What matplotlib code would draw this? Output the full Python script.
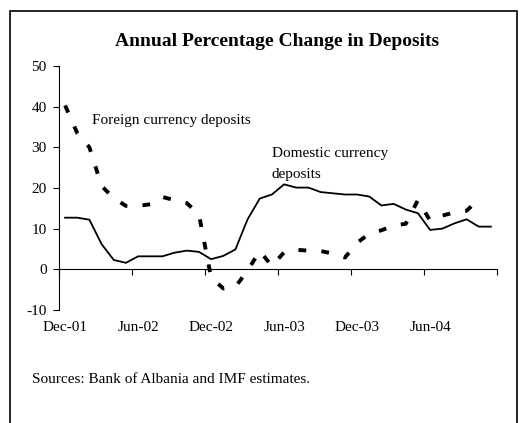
import numpy as np
import matplotlib
matplotlib.use('Agg')
import matplotlib.pyplot as plt
from matplotlib.patches import Rectangle

plt.rcParams['font.family'] = ['Liberation Serif', 'DejaVu Serif']

# monthly data, Dec-01 .. Nov-04
domestic = [12.7, 12.7, 12.2, 6.2, 2.3, 1.6, 3.2, 3.2, 3.2, 4.1, 4.6, 4.3,
            2.5, 3.3, 4.9, 12.3, 17.4, 18.4, 20.9, 20.1, 20.1, 19.0, 18.7, 18.4,
            18.4, 17.9, 15.7, 16.1, 14.7, 13.8, 9.7, 10.0, 11.3, 12.3, 10.5, 10.5]
# foreign currency deposits, Dec-01 .. Oct-04
foreign = [40.3, 33.5, 30.0, 20.5, 17.5, 15.6, 15.6, 16.0, 17.8, 17.0, 16.3, 13.5,
           -2.0, -4.7, -4.3, -0.3, 4.5, 0.8, 4.2, 4.8, 4.6, 4.5, 3.9, 2.9,
           6.5, 8.8, 9.6, 10.8, 11.2, 17.0, 12.0, 13.2, 14.0, 14.4, 17.2]
tick_labels = ['Dec-01', 'Jun-02', 'Dec-02', 'Jun-03', 'Dec-03', 'Jun-04']
yticks = [-10, 0, 10, 20, 30, 40, 50]

n_months = len(domestic)
x_dom = np.arange(len(domestic))
x_for = np.arange(len(foreign))

fig = plt.figure(figsize=(5.27, 4.23), dpi=100)
ax = fig.add_axes([59 / 527, 1 - 310 / 423, 438 / 527, 244 / 423])

ax.plot(x_dom, domestic, color='black', lw=1.3)
ax.plot(x_for, foreign, color='black', lw=2.8, dashes=(2.0, 3.9),
        solid_capstyle='butt', dash_capstyle='butt')

ax.set_xlim(-0.5, n_months - 0.5)
ax.set_ylim(-10, 50)

for s in ['top', 'right']:
    ax.spines[s].set_visible(False)
ax.spines['bottom'].set_position(('data', 0))
ax.spines['left'].set_linewidth(0.8)
ax.spines['bottom'].set_linewidth(0.8)

# tick marks between categories, every 6 months
ax.set_xticks(np.arange(-0.5, n_months, 6))
ax.set_xticklabels([])
ax.tick_params(axis='x', direction='out', length=4, width=0.8)
ax.set_yticks(yticks)
ax.set_yticklabels([str(v) for v in yticks])
ax.tick_params(axis='y', direction='out', length=4, width=0.8, labelsize=11, pad=5)

# category labels at the bottom
sec = ax.secondary_xaxis(0.0)
sec.set_xticks(np.arange(0, n_months, 6))
sec.set_xticklabels(tick_labels)
sec.tick_params(length=0, labelsize=11, pad=8)
sec.spines['bottom'].set_visible(False)

ax.text(2.2, 36.6, 'Foreign currency deposits', fontsize=11, va='center', ha='left')
ax.text(17.0, 26.0, 'Domestic currency\ndeposits', fontsize=11, va='center', ha='left',
        linespacing=1.8)

fig.text(277 / 527, 1 - 41 / 423, 'Annual Percentage Change in Deposits',
         fontsize=14, fontweight='bold', ha='center', va='center')
fig.text(32 / 527, 1 - 379 / 423, 'Sources: Bank of Albania and IMF estimates.',
         fontsize=11, ha='left', va='center')

# outer frame
fig.add_artist(Rectangle((10 / 527, -0.05), 507 / 527, 1.05 - 10.7 / 423,
                         transform=fig.transFigure, fill=False, lw=1.2,
                         edgecolor='black', clip_on=False))

fig.savefig('out.png', dpi=100)
